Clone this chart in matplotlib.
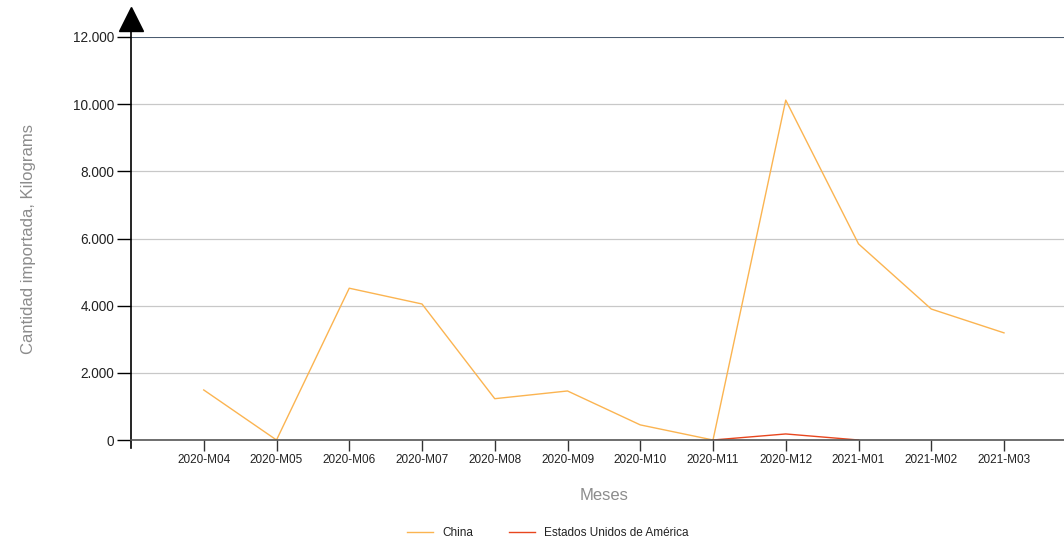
import numpy as np
import matplotlib
matplotlib.use("Agg")
import matplotlib.pyplot as plt
from matplotlib.ticker import FuncFormatter

plt.rcParams['font.family'] = ['Liberation Sans', 'DejaVu Sans']

months = ["2020-M04", "2020-M05", "2020-M06", "2020-M07", "2020-M08", "2020-M09",
          "2020-M10", "2020-M11", "2020-M12", "2021-M01", "2021-M02", "2021-M03"]
china = [1490, 0, 4520, 4050, 1230, 1460, 450, 0, 10120, 5840, 3900, 3190]
usa = [np.nan, np.nan, np.nan, np.nan, np.nan, np.nan, np.nan, 0, 180, 0, np.nan, np.nan]

x = np.arange(1, len(months) + 1)

fig = plt.figure(figsize=(10.64, 5.42), dpi=100)
ax = fig.add_axes([131 / 1064, 1 - 440 / 542, (1064 - 131) / 1064, 403 / 542])

ax.plot(x, china, color="#FBB451", lw=1.0, label="China")
ax.plot(x, usa, color="#E8461E", lw=1.0, label="Estados Unidos de América")

ax.set_xlim(0, (1064 - 131) / 72.75)
ax.set_ylim(0, 12000)
ax.set_yticks(np.arange(0, 12001, 2000))
ax.yaxis.set_major_formatter(FuncFormatter(lambda v, p: f"{int(v):,}".replace(",", ".")))
ax.set_xticks(x)
ax.set_xticklabels(months)

ax.grid(axis="y", color="#C8C8C8", lw=0.9)
ax.set_axisbelow(True)
for s in ["top", "right", "left"]:
    ax.spines[s].set_visible(False)
ax.spines["bottom"].set_color("#555555")
ax.spines["bottom"].set_linewidth(1.2)
ax.axhline(12000, color="#33475F", lw=1.2)

# left axis with arrow
ax.plot([0, 0], [-0.02, 1.02], transform=ax.transAxes, color="black", lw=1.2, clip_on=False)
ax.plot([0], [1.045], transform=ax.transAxes, marker="^", color="black", markersize=17, clip_on=False)

ax.tick_params(axis="y", length=10, width=1.0, color="black", labelsize=9.8, labelcolor="#222222", pad=2)
ax.tick_params(axis="x", length=8, width=1.0, color="#333333", labelsize=8.5, labelcolor="#222222", pad=2)

ax.set_ylabel("Cantidad importada, Kilograms", color="#8C8C8C", fontsize=12)
ax.yaxis.set_label_coords(-(131 - 36) / (1064 - 131), 0.5)
ax.set_xlabel("Meses", color="#8C8C8C", fontsize=12)
ax.xaxis.set_label_coords((604 - 131) / (1064 - 131), -0.12)

fig.legend(loc="center", bbox_to_anchor=(548 / 1064, 1 - 533 / 542), ncol=2, frameon=False,
           fontsize=8.5, handlelength=2.2, columnspacing=3, labelcolor="#222222")

fig.savefig("out.png", dpi=100)
